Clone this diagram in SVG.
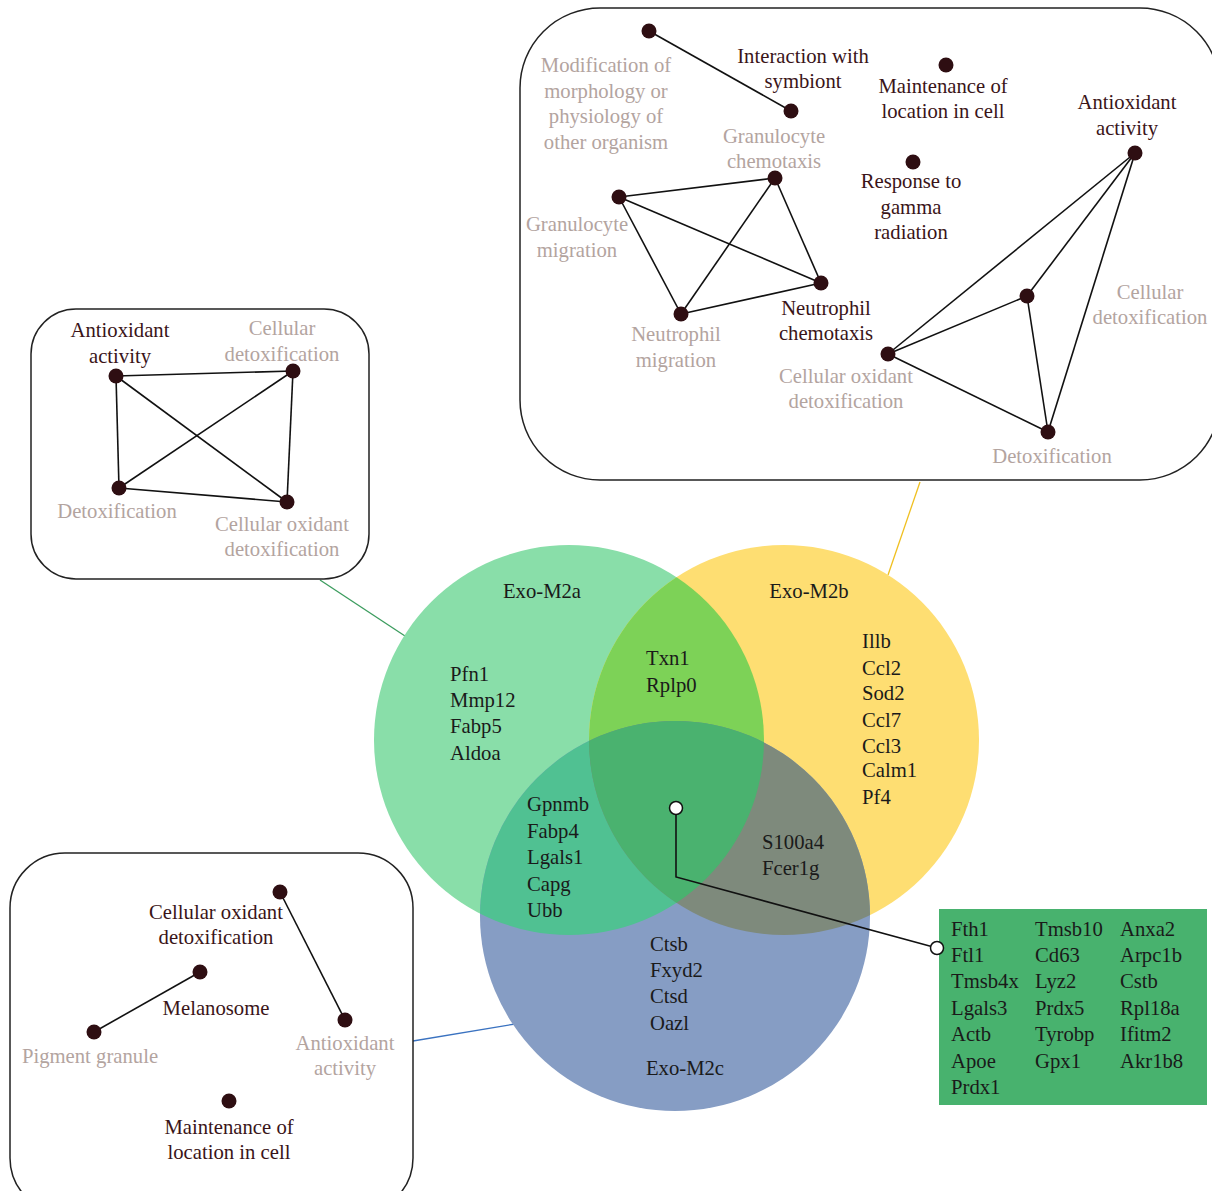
<svg xmlns="http://www.w3.org/2000/svg" width="1212" height="1191" viewBox="0 0 1212 1191">
<style>
text{font-family:"Liberation Serif","DejaVu Serif",serif;font-size:20.7px}
.d{fill:#3a1418;text-anchor:middle}
.g{fill:#b3a49f;text-anchor:middle}
.k{fill:#1a1a1a}
.c{fill:#1a1a1a;text-anchor:middle}
.box{fill:#fff;stroke:#222;stroke-width:1.5}
.e{stroke:#111;stroke-width:1.6;fill:none}
.n{fill:#2e0e12}
</style>
<defs>
<clipPath id="cA"><circle cx="569" cy="740" r="195"/></clipPath>
<clipPath id="cB"><circle cx="784" cy="740" r="195"/></clipPath>
<clipPath id="cC"><circle cx="675" cy="916" r="195"/></clipPath>
</defs>
<rect width="1212" height="1191" fill="#fff"/>

<g id="connectors">
<line x1="320" y1="580" x2="405" y2="636" stroke="#3c9c5e" stroke-width="1.3"/>
<line x1="920" y1="482" x2="888" y2="575" stroke="#f0c020" stroke-width="1.3"/>
<line x1="413" y1="1041" x2="515" y2="1024" stroke="#3a72c0" stroke-width="1.3"/>
</g>

<g id="venn">
<circle cx="569" cy="740" r="195" fill="#89dea9"/>
<circle cx="784" cy="740" r="195" fill="#fede72"/>
<circle cx="675" cy="916" r="195" fill="#869dc4"/>
<g clip-path="url(#cA)"><circle cx="784" cy="740" r="195" fill="#7dd257"/><circle cx="675" cy="916" r="195" fill="#50c192"/></g>
<g clip-path="url(#cB)"><circle cx="675" cy="916" r="195" fill="#7e8a7c"/></g>
<g clip-path="url(#cA)"><g clip-path="url(#cB)"><circle cx="675" cy="916" r="195" fill="#4ab26f"/></g></g>
<text class="c" x="542" y="598">Exo-M2a</text>
<text class="c" x="809" y="598">Exo-M2b</text>
<text class="c" x="685" y="1075">Exo-M2c</text>
<text class="k" x="450" y="681">Pfn1</text>
<text class="k" x="450" y="707">Mmp12</text>
<text class="k" x="450" y="733">Fabp5</text>
<text class="k" x="450" y="760">Aldoa</text>
<text class="k" x="646" y="665">Txn1</text>
<text class="k" x="646" y="692">Rplp0</text>
<text class="k" x="862" y="648">Illb</text>
<text class="k" x="862" y="675">Ccl2</text>
<text class="k" x="862" y="700">Sod2</text>
<text class="k" x="862" y="727">Ccl7</text>
<text class="k" x="862" y="753">Ccl3</text>
<text class="k" x="862" y="777">Calm1</text>
<text class="k" x="862" y="804">Pf4</text>
<text class="k" x="527" y="811">Gpnmb</text>
<text class="k" x="527" y="838">Fabp4</text>
<text class="k" x="527" y="864">Lgals1</text>
<text class="k" x="527" y="891">Capg</text>
<text class="k" x="527" y="917">Ubb</text>
<text class="k" x="762" y="849">S100a4</text>
<text class="k" x="762" y="875">Fcer1g</text>
<text class="k" x="650" y="951">Ctsb</text>
<text class="k" x="650" y="977">Fxyd2</text>
<text class="k" x="650" y="1003">Ctsd</text>
<text class="k" x="650" y="1030">Oazl</text>
</g>

<g id="core-genes">
<rect x="939" y="909" width="268" height="196" fill="#48b26e"/>
<text class="k" x="951" y="936">Fth1</text>
<text class="k" x="951" y="962">Ftl1</text>
<text class="k" x="951" y="988">Tmsb4x</text>
<text class="k" x="951" y="1015">Lgals3</text>
<text class="k" x="951" y="1041">Actb</text>
<text class="k" x="951" y="1068">Apoe</text>
<text class="k" x="951" y="1094">Prdx1</text>
<text class="k" x="1035" y="936">Tmsb10</text>
<text class="k" x="1035" y="962">Cd63</text>
<text class="k" x="1035" y="988">Lyz2</text>
<text class="k" x="1035" y="1015">Prdx5</text>
<text class="k" x="1035" y="1041">Tyrobp</text>
<text class="k" x="1035" y="1068">Gpx1</text>
<text class="k" x="1120" y="936">Anxa2</text>
<text class="k" x="1120" y="962">Arpc1b</text>
<text class="k" x="1120" y="988">Cstb</text>
<text class="k" x="1120" y="1015">Rpl18a</text>
<text class="k" x="1120" y="1041">Ifitm2</text>
<text class="k" x="1120" y="1068">Akr1b8</text>
</g>

<g id="pointer">
<polyline points="676,808 676,877 937,948" fill="none" stroke="#111" stroke-width="1.6"/>
<circle cx="676" cy="808" r="6.5" fill="#fff" stroke="#111" stroke-width="1.5"/>
<circle cx="937" cy="948" r="6.5" fill="#fff" stroke="#111" stroke-width="1.5"/>
</g>

<g id="box-m2b">
<rect class="box" x="520" y="8" width="700" height="472" rx="80"/>
<g class="e">
<line x1="649" y1="31" x2="791" y2="111"/>
<line x1="619" y1="197" x2="775" y2="178"/>
<line x1="619" y1="197" x2="681" y2="314"/>
<line x1="619" y1="197" x2="821" y2="283"/>
<line x1="775" y1="178" x2="681" y2="314"/>
<line x1="775" y1="178" x2="821" y2="283"/>
<line x1="681" y1="314" x2="821" y2="283"/>
<line x1="1135" y1="153" x2="888" y2="354"/>
<line x1="1135" y1="153" x2="1027" y2="296"/>
<line x1="1135" y1="153" x2="1048" y2="432"/>
<line x1="888" y1="354" x2="1027" y2="296"/>
<line x1="888" y1="354" x2="1048" y2="432"/>
<line x1="1027" y1="296" x2="1048" y2="432"/>
</g>
<g class="n">
<circle cx="649" cy="31" r="7.5"/><circle cx="791" cy="111" r="7.5"/>
<circle cx="946" cy="65" r="7.5"/><circle cx="913" cy="162" r="7.5"/>
<circle cx="1135" cy="153" r="7.5"/><circle cx="775" cy="178" r="7.5"/>
<circle cx="619" cy="197" r="7.5"/><circle cx="681" cy="314" r="7.5"/>
<circle cx="821" cy="283" r="7.5"/><circle cx="1027" cy="296" r="7.5"/>
<circle cx="888" cy="354" r="7.5"/><circle cx="1048" cy="432" r="7.5"/>
</g>
<text class="g" x="606" y="72">Modification of</text>
<text class="g" x="606" y="98">morphology or</text>
<text class="g" x="606" y="123">physiology of</text>
<text class="g" x="606" y="149">other organism</text>
<text class="d" x="803" y="63">Interaction with</text>
<text class="d" x="803" y="88">symbiont</text>
<text class="g" x="774" y="143">Granulocyte</text>
<text class="g" x="774" y="168">chemotaxis</text>
<text class="d" x="943" y="93">Maintenance of</text>
<text class="d" x="943" y="118">location in cell</text>
<text class="d" x="911" y="188">Response to</text>
<text class="d" x="911" y="214">gamma</text>
<text class="d" x="911" y="239">radiation</text>
<text class="d" x="1127" y="109">Antioxidant</text>
<text class="d" x="1127" y="135">activity</text>
<text class="g" x="577" y="231">Granulocyte</text>
<text class="g" x="577" y="257">migration</text>
<text class="g" x="676" y="341">Neutrophil</text>
<text class="g" x="676" y="367">migration</text>
<text class="d" x="826" y="315">Neutrophil</text>
<text class="d" x="826" y="340">chemotaxis</text>
<text class="g" x="1150" y="299">Cellular</text>
<text class="g" x="1150" y="324">detoxification</text>
<text class="g" x="846" y="383">Cellular oxidant</text>
<text class="g" x="846" y="408">detoxification</text>
<text class="g" x="1052" y="463">Detoxification</text>
</g>

<g id="box-m2a">
<rect class="box" x="31" y="309" width="338" height="270" rx="45"/>
<g class="e">
<line x1="116" y1="376" x2="293" y2="371"/>
<line x1="116" y1="376" x2="119" y2="488"/>
<line x1="116" y1="376" x2="287" y2="502"/>
<line x1="293" y1="371" x2="119" y2="488"/>
<line x1="293" y1="371" x2="287" y2="502"/>
<line x1="119" y1="488" x2="287" y2="502"/>
</g>
<g class="n">
<circle cx="116" cy="376" r="7.5"/><circle cx="293" cy="371" r="7.5"/>
<circle cx="119" cy="488" r="7.5"/><circle cx="287" cy="502" r="7.5"/>
</g>
<text class="d" x="120" y="337">Antioxidant</text>
<text class="d" x="120" y="363">activity</text>
<text class="g" x="282" y="335">Cellular</text>
<text class="g" x="282" y="361">detoxification</text>
<text class="g" x="117" y="518">Detoxification</text>
<text class="g" x="282" y="531">Cellular oxidant</text>
<text class="g" x="282" y="556">detoxification</text>
</g>

<g id="box-m2c">
<rect class="box" x="10" y="853" width="403" height="360" rx="55"/>
<g class="e">
<line x1="280" y1="892" x2="345" y2="1020"/>
<line x1="200" y1="972" x2="94" y2="1032"/>
</g>
<g class="n">
<circle cx="280" cy="892" r="7.5"/><circle cx="200" cy="972" r="7.5"/>
<circle cx="94" cy="1032" r="7.5"/><circle cx="345" cy="1020" r="7.5"/>
<circle cx="229" cy="1101" r="7.5"/>
</g>
<text class="d" x="216" y="919">Cellular oxidant</text>
<text class="d" x="216" y="944">detoxification</text>
<text class="d" x="216" y="1015">Melanosome</text>
<text class="g" x="90" y="1063">Pigment granule</text>
<text class="g" x="345" y="1050">Antioxidant</text>
<text class="g" x="345" y="1075">activity</text>
<text class="d" x="229" y="1134">Maintenance of</text>
<text class="d" x="229" y="1159">location in cell</text>
</g>
</svg>
